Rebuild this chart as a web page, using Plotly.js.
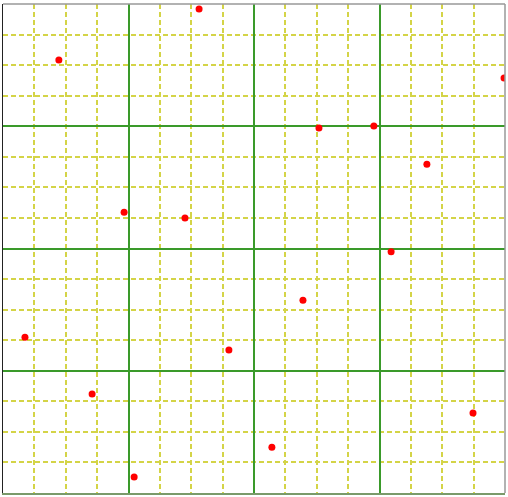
<!DOCTYPE html>
<html>
<head>
<meta charset="utf-8">
<script src="https://cdn.plot.ly/plotly-3.0.1.min.js"></script>
<style>html,body{margin:0;padding:0;background:#fff;}#chart{width:508px;height:497px;}</style>
</head>
<body>
<div id="chart"></div>
<script>
const xValues = [6.25, 1.78, 15.97, 10.07, 11.82, 13.51, 3.86, 5.80, 12.37, 9.56, 0.70, 7.20, 2.84, 14.98, 8.57, 4.18];
const yValues = [15.84, 14.17, 13.58, 11.94, 12.01, 10.76, 9.19, 9.00, 7.89, 6.31, 5.10, 4.68, 3.24, 2.62, 1.50, 0.52];

const minorGrid = {dtick: 1, showgrid: true, gridcolor: '#d4d447', gridwidth: 2, griddash: '5px,3px', ticks: ''};
const axisBase = {
  range: [0, 16], dtick: 4, tick0: 0, showgrid: true, gridcolor: '#3a9a2a', gridwidth: 2,
  zeroline: false, showticklabels: false, ticks: '', minor: minorGrid, fixedrange: true
};

Plotly.newPlot('chart', [{
  type: 'scatter', mode: 'markers', x: xValues, y: yValues,
  marker: {color: '#ff0000', size: 7}, cliponaxis: true, hoverinfo: 'none'
}], {
  width: 508, height: 497,
  margin: {l: 3, r: 3, t: 4, b: 4, pad: 0},
  paper_bgcolor: '#ffffff', plot_bgcolor: '#ffffff',
  showlegend: false,
  xaxis: Object.assign({}, axisBase, {showline: true, linecolor: '#7a9a6a', linewidth: 1.5, mirror: false}),
  yaxis: Object.assign({}, axisBase, {showline: true, linecolor: '#222222', linewidth: 1.5, mirror: false}),
  shapes: [
    {type: 'line', xref: 'paper', yref: 'paper', x0: 0, x1: 1, y0: 1, y1: 1, line: {color: '#999999', width: 1.5}},
    {type: 'line', xref: 'paper', yref: 'paper', x0: 1, x1: 1, y0: 0, y1: 1, line: {color: '#999999', width: 1.5}}
  ]
}, {staticPlot: true});
</script>
</body>
</html>
